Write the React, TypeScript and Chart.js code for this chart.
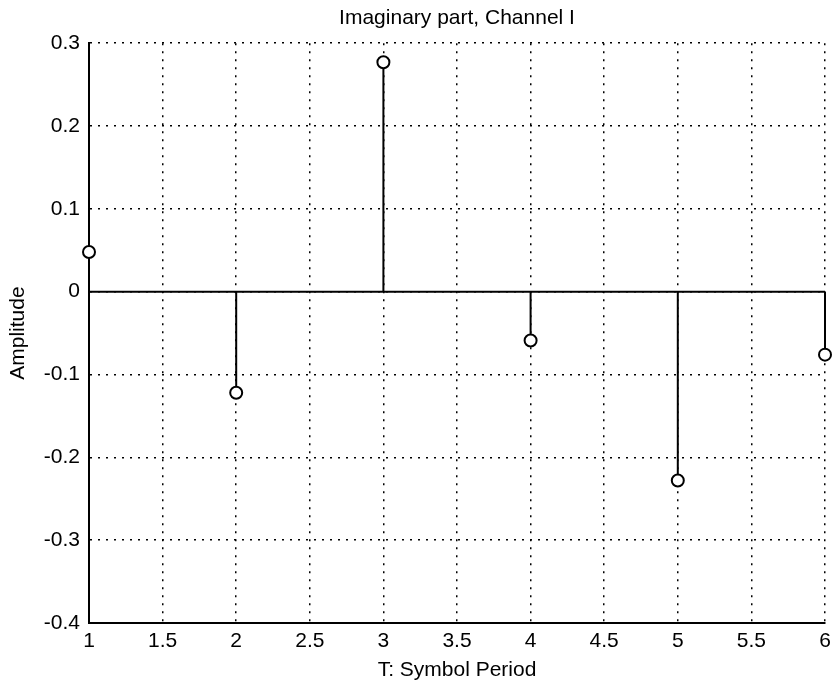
import React, { useEffect, useRef } from "react";
import { Chart, registerables } from "chart.js";

Chart.register(...registerables);

const periods = [1, 2, 3, 4, 5, 6];
const amplitudes = [0.048, -0.122, 0.277, -0.059, -0.228, -0.076];
const xTicks = [1, 1.5, 2, 2.5, 3, 3.5, 4, 4.5, 5, 5.5, 6];
const yTicks = [-0.4, -0.3, -0.2, -0.1, 0, 0.1, 0.2, 0.3];
const yTickLabels = ["-0.4", "-0.3", "-0.2", "-0.1", "0", "0.1", "0.2", "0.3"];
const xTickLabels = ["1", "1.5", "2", "2.5", "3", "3.5", "4", "4.5", "5", "5.5", "6"];

const FONT = "'Liberation Sans', Arial, Helvetica, sans-serif";

export default function App() {
  const ref = useRef<HTMLCanvasElement | null>(null);

  useEffect(() => {
    if (!ref.current) return;
    const stems = periods.map((p, i) => ({
      type: "line" as const,
      data: [
        { x: p, y: 0 },
        { x: p, y: amplitudes[i] },
      ],
      borderColor: "#000",
      borderWidth: 2,
      pointRadius: 0,
      showLine: true,
      clip: false as any,
      order: 2,
    }));
    const chart = new Chart(ref.current, {
      type: "scatter",
      data: {
        datasets: [
          {
            type: "line",
            data: [
              { x: periods[0], y: 0 },
              { x: periods[periods.length - 1], y: 0 },
            ],
            borderColor: "#000",
            borderWidth: 2,
            pointRadius: 0,
            showLine: true,
            order: 3,
          } as any,
          ...stems,
          {
            data: periods.map((p, i) => ({ x: p, y: amplitudes[i] })),
            pointStyle: "circle",
            pointRadius: 6,
            pointBorderWidth: 2,
            pointBorderColor: "#000",
            pointBackgroundColor: "#fff",
            borderColor: "#000",
            backgroundColor: "#fff",
            showLine: false,
            clip: false,
            order: 1,
          } as any,
        ],
      },
      options: {
        animation: false,
        responsive: false,
        maintainAspectRatio: false,
        layout: { padding: { left: 0, right: 9, top: 0, bottom: 0 } },
        plugins: {
          legend: { display: false },
          tooltip: { enabled: false },
          title: {
            display: true,
            fullSize: false,
            text: "Imaginary part, Channel I",
            color: "#000",
            font: { family: FONT, size: 21, weight: "normal" },
            padding: { top: 6, bottom: 12 },
          },
        },
        scales: {
          x: {
            type: "linear",
            min: 1,
            max: 6,
            afterBuildTicks: (s: any) => {
              s.ticks = xTicks.map((v) => ({ value: v }));
            },
            afterFit: (s: any) => {
              s.height = 66;
              s.paddingLeft = 0;
              s.paddingRight = 0;
            },
            ticks: {
              color: "#000",
              font: { family: FONT, size: 21 },
              padding: 6,
              maxRotation: 0,
              autoSkip: false,
              callback: (v: any) => {
                const i = xTicks.indexOf(Number(v));
                return i >= 0 ? xTickLabels[i] : "";
              },
            },
            grid: {
              color: "#000",
              lineWidth: 1.5,
              drawTicks: false,
            },
            border: { display: true, color: "#000", width: 2, dash: [2, 6] },
            title: {
              display: true,
              text: "T: Symbol Period",
              color: "#000",
              font: { family: FONT, size: 21 },
              padding: { top: 0, bottom: 6 },
            },
          },
          y: {
            type: "linear",
            min: -0.4,
            max: 0.3,
            afterBuildTicks: (s: any) => {
              s.ticks = yTicks.map((v) => ({ value: v }));
            },
            afterFit: (s: any) => {
              s.width = 89;
            },
            ticks: {
              color: "#000",
              font: { family: FONT, size: 21 },
              padding: 9,
              autoSkip: false,
              callback: (v: any, idx: number) => yTickLabels[idx],
            },
            grid: {
              color: "#000",
              lineWidth: 1.5,
              drawTicks: false,
            },
            border: { display: true, color: "#000", width: 2, dash: [2, 6] },
            title: {
              display: true,
              text: "Amplitude",
              color: "#000",
              font: { family: FONT, size: 21 },
              padding: { top: 6, bottom: 0 },
            },
          },
        },
      },
    });
    return () => chart.destroy();
  }, []);

  return (
    <div style={{ position: "fixed", left: 0, top: 0, width: 834, height: 689, background: "#fff" }}>
      <canvas ref={ref} width={834} height={689} style={{ width: 834, height: 689 }} />
    </div>
  );
}
